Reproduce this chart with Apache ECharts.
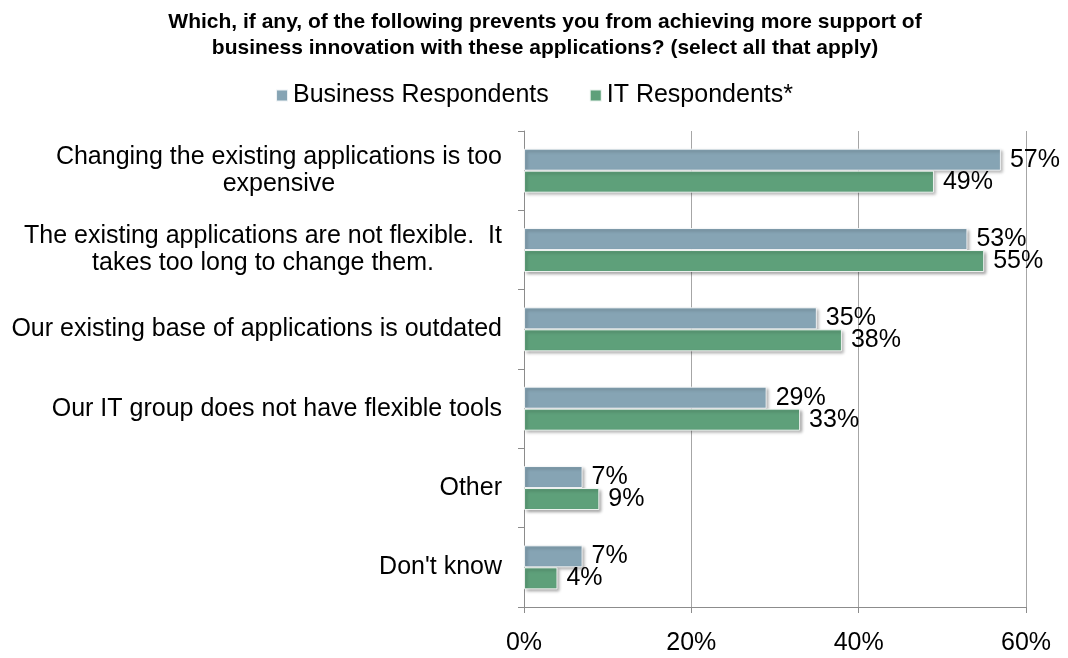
<!DOCTYPE html>
<html>
<head>
<meta charset="utf-8">
<script src="https://cdn.jsdelivr.net/npm/echarts@6/dist/echarts.min.js"></script>
<style>
  html, body { margin: 0; padding: 0; background: #fff; }
  #chart { width: 1068px; height: 658px; }
</style>
</head>
<body>
<div id="chart"></div>
<script>
// Survey answers, listed top to bottom
const categories = [
  "Changing the existing applications is too\nexpensive",
  "The existing applications are not flexible.  It\ntakes too long to change them.",
  "Our existing base of applications is outdated",
  "Our IT group does not have flexible tools",
  "Other",
  "Don't know"
];
const businessValues = [57, 53, 35, 29, 7, 7];
const itValues = [49, 55, 38, 33, 9, 4];
const seriesNames = ["Business Respondents", "IT Respondents*"];
const xTicks = [0, 20, 40, 60];

const FONT = "'Liberation Sans', Arial, sans-serif";
const chart = echarts.init(document.getElementById('chart'), null, { renderer: 'canvas' });

const barShadow = {
  shadowColor: 'rgba(0,0,0,0.35)',
  shadowBlur: 3,
  shadowOffsetX: 2,
  shadowOffsetY: 2,
  borderColor: 'rgba(255,255,255,0.85)',
  borderWidth: 1
};

const valueLabel = {
  show: true,
  position: 'right',
  distance: 9,
  formatter: '{c}%',
  color: '#000',
  fontFamily: FONT,
  fontSize: 25
};

chart.setOption({
  animation: false,
  backgroundColor: '#fff',
  title: {
    text: 'Which, if any, of the following prevents you from achieving more support of\nbusiness innovation with these applications? (select all that apply)',
    left: 540,
    textAlign: 'center',
    top: 4,
    textStyle: {
      fontFamily: FONT,
      fontWeight: 'bold',
      fontSize: 21,
      lineHeight: 26,
      color: '#000'
    }
  },
  legend: {
    top: 78,
    left: 'center',
    itemWidth: 12,
    itemHeight: 12,
    itemGap: 40,
    icon: 'rect',
    data: seriesNames,
    textStyle: { fontFamily: FONT, fontSize: 25, color: '#000' }
  },
  grid: { left: 524, right: 42, top: 131, bottom: 51, containLabel: false },
  xAxis: {
    type: 'value',
    min: xTicks[0],
    max: xTicks[xTicks.length - 1],
    interval: 20,
    axisLine: { show: true, lineStyle: { color: '#8c8c8c', width: 1 } },
    axisTick: { show: true, length: 6, lineStyle: { color: '#8c8c8c' } },
    splitLine: { show: true, lineStyle: { color: '#a6a6a6', width: 1 } },
    axisLabel: {
      formatter: '{value}%',
      margin: 24,
      color: '#000',
      fontFamily: FONT,
      fontSize: 25
    }
  },
  yAxis: {
    type: 'category',
    inverse: true,
    data: categories,
    axisLine: { show: true, lineStyle: { color: '#8c8c8c', width: 1 } },
    axisTick: { show: true, length: 6, lineStyle: { color: '#8c8c8c' } },
    axisLabel: {
      margin: 22,
      color: '#000',
      interval: 0,
      formatter: function (v) {
        return v.split('\n').map(function (s) { return '{c|' + s + '}'; }).join('\n');
      },
      rich: {
        c: { align: 'center', fontFamily: FONT, fontSize: 25, lineHeight: 27, color: '#000' }
      }
    }
  },
  series: [
    {
      name: seriesNames[0],
      type: 'bar',
      data: businessValues,
      barWidth: 22,
      barGap: '0%',
      itemStyle: Object.assign({ color: '#86a4b4' }, barShadow),
      label: valueLabel
    },
    {
      name: seriesNames[1],
      type: 'bar',
      data: itValues,
      barWidth: 22,
      barGap: '0%',
      itemStyle: Object.assign({ color: '#5ea07a' }, barShadow),
      label: valueLabel
    }
  ]
});
</script>
</body>
</html>
